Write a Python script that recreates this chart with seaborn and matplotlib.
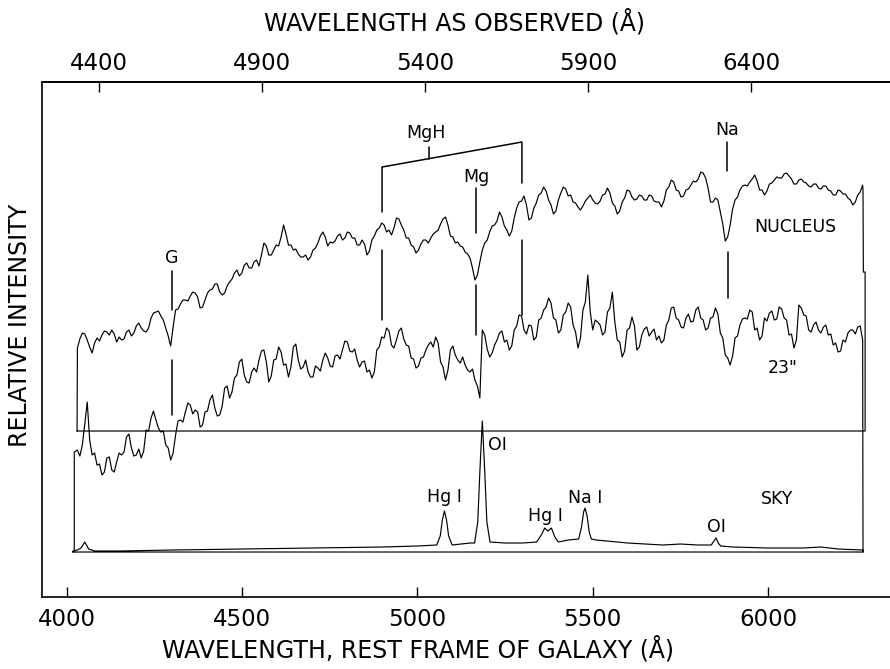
import matplotlib
matplotlib.use("Agg")
import matplotlib.pyplot as plt
import seaborn as sns

# ---------------- data (rest-frame wavelengths in Å, intensities in arbitrary units) -------------
wave_grid = [
    4030, 4044, 4058, 4072, 4086, 4100, 4114, 4128, 4142, 4156,
    4170, 4184, 4198, 4212, 4226, 4240, 4254, 4268, 4282, 4296,
    4310, 4324, 4338, 4352, 4366, 4380, 4394, 4408, 4422, 4436,
    4450, 4464, 4478, 4492, 4506, 4520, 4534, 4548, 4562, 4576,
    4590, 4604, 4618, 4632, 4646, 4660, 4674, 4688, 4702, 4716,
    4730, 4744, 4758, 4772, 4786, 4800, 4814, 4828, 4842, 4856,
    4870, 4884, 4898, 4912, 4926, 4940, 4954, 4968, 4982, 4996,
    5010, 5024, 5038, 5052, 5066, 5080, 5094, 5108, 5122, 5136,
    5150, 5164, 5178, 5192, 5206, 5220, 5234, 5248, 5262, 5276,
    5290, 5304, 5318, 5332, 5346, 5360, 5374, 5388, 5402, 5416,
    5430, 5444, 5458, 5472, 5486, 5500, 5514, 5528, 5542, 5556,
    5570, 5584, 5598, 5612, 5626, 5640, 5654, 5668, 5682, 5696,
    5710, 5724, 5738, 5752, 5766, 5780, 5794, 5808, 5822, 5836,
    5850, 5864, 5878, 5892, 5906, 5920, 5934, 5948, 5962, 5976,
    5990, 6004, 6018, 6032, 6046, 6060, 6074, 6088, 6102, 6116,
    6130, 6144, 6158, 6172, 6186, 6200, 6214, 6228, 6242, 6256,
    6270]

# nucleus: readings on the grid, and readings half-way between grid points
nucleus_flux = [
    83, 98, 91, 78, 93, 96, 99, 101, 89, 91,
    99, 95, 105, 103, 99, 113, 119, 115, 103, 85,
    121, 127, 131, 135, 138, 123, 131, 141, 147, 139,
    138, 149, 158, 155, 166, 163, 169, 165, 188, 176,
    181, 185, 206, 186, 181, 177, 174, 171, 181, 188,
    199, 185, 188, 195, 191, 199, 193, 186, 191, 176,
    191, 201, 208, 199, 196, 213, 206, 193, 186, 178,
    187, 191, 193, 199, 207, 214, 195, 188, 185, 179,
    173, 151, 169, 188, 199, 206, 219, 205, 195, 213,
    229, 235, 211, 223, 236, 244, 231, 217, 231, 244,
    235, 229, 224, 225, 233, 231, 227, 236, 243, 228,
    217, 229, 241, 234, 232, 235, 231, 235, 229, 224,
    241, 251, 241, 234, 241, 246, 249, 259, 253, 229,
    233, 219, 190, 206, 231, 241, 246, 249, 256, 241,
    236, 247, 251, 253, 257, 255, 247, 251, 249, 245,
    247, 243, 245, 241, 236, 241, 237, 233, 226, 236,
    246]
nucleus_mid = [
    92, 97, 84, 88, 90, 100, 96, 97, 94, 92,
    101, 98, 108, 100, 103, 118, 120, 111, 95, 104,
    122, 131, 130, 139, 134, 124, 138, 142, 147, 136,
    145, 152, 161, 158, 168, 163, 171, 176, 185, 176,
    186, 194, 197, 186, 182, 174, 176, 174, 183, 195,
    194, 189, 190, 197, 193, 198, 193, 186, 187, 180,
    195, 203, 206, 201, 203, 212, 201, 193, 184, 181,
    191, 188, 197, 201, 212, 206, 194, 189, 184, 177,
    163, 156, 181, 191, 205, 210, 214, 201, 200, 223,
    230, 226, 213, 228, 238, 240, 226, 220, 238, 242,
    236, 228, 221, 230, 236, 228, 230, 237, 238, 225,
    220, 233, 240, 231, 236, 231, 236, 230, 229, 230,
    244, 249, 240, 235, 242, 250, 252, 258, 243, 229,
    231, 207, 194, 222, 234, 245, 245, 252, 250, 241,
    240, 248, 254, 253, 258, 252, 247, 252, 248, 244,
    247, 242, 245, 240, 236, 240, 237, 231, 229, 239]

# 23" off-nucleus spectrum
outer_flux = [
    102, 107, 150, 97, 87, 77, 94, 82, 90, 97,
    115, 104, 97, 94, 122, 134, 132, 120, 107, 92,
    117, 132, 140, 147, 142, 125, 140, 152, 144, 137,
    164, 154, 174, 190, 177, 169, 184, 192, 202, 170,
    192, 205, 187, 175, 205, 192, 185, 180, 175, 184,
    192, 194, 185, 197, 202, 210, 200, 192, 190, 180,
    174, 202, 215, 224, 207, 212, 224, 207, 194, 184,
    194, 202, 210, 215, 190, 172, 202, 197, 189, 187,
    180, 172, 154, 217, 195, 207, 219, 210, 202, 222,
    237, 222, 227, 212, 232, 242, 254, 234, 219, 237,
    249, 227, 204, 242, 277, 222, 230, 217, 240, 260,
    212, 195, 222, 235, 202, 217, 225, 220, 212, 209,
    227, 244, 234, 225, 234, 230, 242, 234, 222, 234,
    244, 219, 197, 187, 214, 227, 234, 242, 222, 212,
    234, 239, 232, 245, 234, 217, 204, 247, 237, 222,
    227, 222, 225, 217, 207, 200, 212, 219, 222, 225,
    212]
outer_mid = [
    96, 128, 112, 99, 88, 80, 95, 80, 99, 100,
    118, 96, 103, 101, 121, 141, 124, 121, 104, 99,
    131, 130, 149, 138, 140, 127, 141, 157, 136, 146,
    166, 160, 177, 193, 170, 180, 180, 201, 190, 176,
    193, 200, 188, 185, 208, 183, 192, 175, 186, 181,
    199, 186, 196, 193, 211, 201, 203, 185, 191, 182,
    180, 205, 214, 221, 204, 221, 213, 206, 193, 186,
    195, 207, 205, 209, 185, 182, 206, 192, 195, 182,
    183, 166, 222, 203, 199, 212, 221, 212, 206, 226,
    236, 218, 226, 215, 234, 245, 249, 232, 222, 240,
    245, 220, 214, 250, 240, 232, 227, 220, 244, 230,
    210, 201, 224, 226, 205, 223, 216, 223, 216, 212,
    232, 245, 232, 224, 238, 231, 245, 232, 224, 235,
    238, 214, 194, 196, 216, 233, 233, 240, 224, 216,
    231, 241, 233, 243, 232, 218, 212, 244, 236, 220,
    230, 219, 227, 218, 209, 201, 210, 222, 218, 226]

sky_wave = [4017, 4030, 4040, 4051, 4062, 4080, 4150, 4300, 4500, 4700,
            4900, 5000, 5055, 5065, 5071, 5077, 5083, 5089, 5099, 5150,
            5163, 5172, 5178, 5185, 5192, 5198, 5207, 5250, 5300, 5340,
            5355, 5363, 5372, 5382, 5392, 5402, 5430, 5460, 5468, 5474,
            5478, 5484, 5490, 5496, 5510, 5600, 5700, 5750, 5800, 5838,
            5846, 5852, 5858, 5865, 5900, 6000, 6100, 6150, 6200, 6270]
sky_flux = [1, 2, 4, 10, 3, 1, 1, 2, 3, 4,
            5, 6, 7, 16, 32, 41, 32, 16, 7, 9,
            9, 30, 80, 131, 80, 30, 10, 9, 9, 10,
            18, 24, 21, 24, 15, 10, 12, 13, 25, 40,
            44, 36, 20, 13, 12, 9, 7, 8, 7, 7,
            11, 14, 9, 6, 5, 4, 4, 5, 3, 2]

observed_per_rest = 1.0752          # (1 + z) of the galaxy
bottom_ticks = [4000, 4500, 5000, 5500, 6000]
top_ticks = [4400, 4900, 5400, 5900, 6400]

abs_names = ["G", "MgH", "Mg", "Na"]
abs_waves = [4300, 4899, 5167, 5882]
mgh_band_end = 5298
sky_line_names = ["Hg I", "OI", "Hg I", "Na I", "OI"]
sky_line_waves = [5076, 5201, 5364, 5478, 5852]


def interleave(main, mid):
    out = []
    for a, b in zip(main[:-1], mid):
        out += [a, b]
    return out + [main[-1]]


mid_wave = [(a + b) / 2 for a, b in zip(wave_grid[:-1], wave_grid[1:])]
fine_wave = interleave(wave_grid, mid_wave)
nucleus_fine = interleave(nucleus_flux, nucleus_mid)
outer_fine = interleave(outer_flux, outer_mid)

# ---------------- figure ----------------
sns.set_theme(style="white")
plt.rcParams["font.family"] = ["DejaVu Sans"]
plt.rcParams["text.color"] = "black"
plt.rcParams["axes.labelcolor"] = "black"
plt.rcParams["xtick.color"] = "black"
plt.rcParams["ytick.color"] = "black"

fig = plt.figure(figsize=(8.9, 6.69), dpi=100)
ax = fig.add_axes([0.0472, 0.1076, 0.9528, 0.7698])
ax.set_xlim(3929, 6348)
ax.set_ylim(0, 515)

NUC_ZERO = 166
LOW_ZERO = 45
lw = 0.85
k = "black"

# nucleus trace, closed by its zero line
nx = [wave_grid[0] - 1] + fine_wave + [6271, 6272, 6277, 6277, wave_grid[0] - 1]
ny = [0] + nucleus_fine + [241, 159, 159, 0, 0]
sns.lineplot(x=nx, y=[v + NUC_ZERO for v in ny], sort=False, estimator=None,
             color=k, linewidth=lw, ax=ax)

# 23" trace
ox = [4021, 4021] + fine_wave + [6271]
oy = [0, 100] + outer_fine + [0]
sns.lineplot(x=ox, y=[v + LOW_ZERO for v in oy], sort=False, estimator=None,
             color=k, linewidth=lw, ax=ax)

# sky trace, closed by its zero line
sx = [sky_wave[0]] + sky_wave + [6272, 6272, sky_wave[0]]
sy = [0] + sky_flux + [2, 0, 0]
sns.lineplot(x=sx, y=[v + LOW_ZERO for v in sy], sort=False, estimator=None,
             color=k, linewidth=lw, ax=ax)

# absorption feature markers
mk = dict(color=k, linewidth=1.1)
fs = 12.5
g, mgh, mg, na = abs_waves
ax.plot([g, g], [287, 326], **mk)
ax.plot([g, g], [182, 237], **mk)
ax.text(g, 339, abs_names[0], ha="center", va="center", fontsize=fs)

ax.plot([mgh, mgh, mgh_band_end, mgh_band_end], [385, 430, 455, 414], **mk)
mid = 5033
ax.plot([mid, mid], [430 + (mid - mgh) / (mgh_band_end - mgh) * 25, 450], **mk)
ax.text(5024, 464, abs_names[1], ha="center", va="center", fontsize=fs)
ax.plot([mgh, mgh], [277, 347], **mk)
ax.plot([mgh_band_end, mgh_band_end], [282, 357], **mk)

ax.plot([mg, mg], [364, 409], **mk)
ax.plot([mg, mg], [262, 312], **mk)
ax.text(mg, 420, abs_names[2], ha="center", va="center", fontsize=fs)

ax.plot([na, na], [426, 455], **mk)
ax.plot([na + 5, na + 5], [299, 345], **mk)
ax.text(na, 467, abs_names[3], ha="center", va="center", fontsize=fs)

# spectrum labels
ax.text(6077, 370, "NUCLEUS", ha="center", va="center", fontsize=fs)
ax.text(6043, 229, '23"', ha="center", va="center", fontsize=fs)
ax.text(6026, 98, "SKY", ha="center", va="center", fontsize=fs)

# sky line labels
sky_label_y = [100, 152, 81, 99, 70]
for name, w, yy in zip(sky_line_names, sky_line_waves, sky_label_y):
    ha = "left" if (name == "OI" and yy > 120) else "center"
    ax.text(w, yy, name, ha=ha, va="center", fontsize=fs)

# axes styling
for side in ["left", "bottom", "top"]:
    ax.spines[side].set_visible(True)
    ax.spines[side].set_color(k)
    ax.spines[side].set_linewidth(1.2)
ax.spines["right"].set_visible(False)
ax.set_yticks([])
ax.set_xticks(bottom_ticks)
ax.set_xticklabels([str(t) for t in bottom_ticks])
ax.tick_params(axis="x", direction="in", length=7.5, width=1.0, labelsize=16.5,
               pad=8, top=False, bottom=True, colors=k)
ax.set_xlabel("")
ax.set_ylabel("")

sec = ax.secondary_xaxis("top", functions=(lambda x: x * observed_per_rest,
                                           lambda x: x / observed_per_rest))
sec.set_xticks(top_ticks)
sec.set_xticklabels([str(t) for t in top_ticks])
sec.tick_params(axis="x", direction="in", length=7.5, width=1.0, labelsize=16.5,
                pad=5, colors=k)
sec.spines["top"].set_linewidth(1.2)
sec.spines["top"].set_color(k)

fig.text(455 / 890, 1 - 22 / 669, "WAVELENGTH AS OBSERVED (Å)", ha="center",
         va="center", fontsize=17, color=k)
fig.text(418 / 890, 1 - 649 / 669, "WAVELENGTH, REST FRAME OF GALAXY (Å)",
         ha="center", va="center", fontsize=17, color=k)
fig.text(20 / 890, 1 - 325 / 669, "RELATIVE INTENSITY", rotation=90,
         ha="center", va="center", fontsize=17, color=k)

fig.savefig("out.png", dpi=100, facecolor="white")
